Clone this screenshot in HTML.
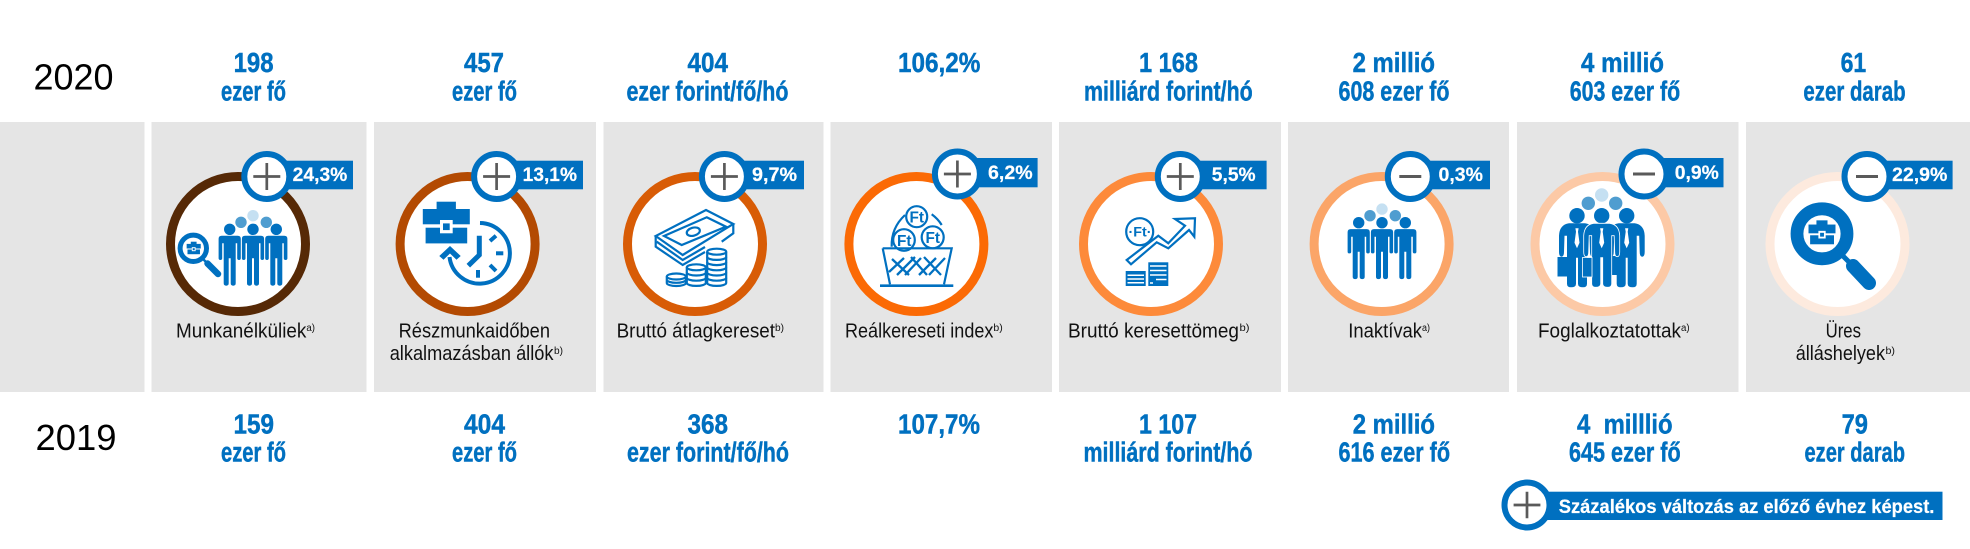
<!DOCTYPE html>
<html lang="hu">
<head>
<meta charset="utf-8">
<title>Munkaerőpiaci mutatók 2020 és 2019</title>
<style>
html,body{margin:0;padding:0;background:#fff;width:1970px;height:549px;overflow:hidden}
svg{display:block}
text{font-family:"Liberation Sans",sans-serif}
.v{font-size:28px;font-weight:700;fill:#0070c0;stroke:#0070c0;stroke-width:.45px}
.y{font-size:36px;fill:#000}
.l{font-size:20px;fill:#111}
.s{font-size:10px;fill:#111}
.b{font-size:19px;font-weight:700;fill:#fff;stroke:#fff;stroke-width:.2px}
.ic{fill:#0070c0}
.ln{fill:none;stroke:#0070c0;stroke-width:2.2}
.ft{font-size:16px;font-weight:700;fill:#0070c0}
</style>
</head>
<body>
<svg xmlns="http://www.w3.org/2000/svg" width="1970" height="549" viewBox="0 0 1970 549">
<defs>
<path id="person" d="M-8 6.4H8Q11.1 6.4 11.1 9.5V29Q11.1 30.7 9.3 30.7Q7.5 30.7 7.5 29V14H6V54Q6 56.4 3.5 56.4Q1 56.4 1 54V29H-1V54Q-1 56.4-3.5 56.4Q-6 56.4-6 54V14H-7.5V29Q-7.5 30.7-9.3 30.7Q-11.1 30.7-11.1 29V9.5Q-11.1 6.4-8 6.4Z"/>
<g id="group">
<circle cx="-12" cy="-7" r="5.7" fill="#4f9dd0"/>
<circle cx="13.3" cy="-7" r="5.7" fill="#4f9dd0"/>
<circle cx="0" cy="-13.6" r="5.7" fill="#c5e0f2"/>
<g fill="#0070c0">
<circle cx="-23.3" cy="0" r="5.7"/><use href="#person" x="-23.3"/>
<circle cx="0" cy="0" r="5.7"/><use href="#person"/>
<circle cx="23.3" cy="0" r="5.7"/><use href="#person" x="23.3"/>
</g>
</g>
<g id="case">
<rect x="-9.7" y="-25" width="19.3" height="8" fill="#0070c0"/>
<rect x="-23.5" y="-17.7" width="47" height="15.3" fill="#0070c0"/>
<rect x="-20.7" y="1" width="41.6" height="15.7" fill="#0070c0"/>
<rect x="-6.3" y="-6.7" width="12.7" height="13.3" fill="#fff"/>
<rect x="-3.3" y="-3.3" width="6.7" height="6.7" fill="#0070c0"/>
</g>
<path id="layer" d="M-9.5 0V5.2A9.5 3 0 0 0 9.5 5.2V0" fill="none" stroke="#0070c0" stroke-width="2.2"/>
<path id="suit" d="M-8 7.6H8Q17.5 9 18 20V36Q18 41 15.5 41Q13 41 13 36L12.5 20H10V68Q10 71.6 6 71.6Q1 71.6 1 68V42H-1V68Q-1 71.6-6 71.6Q-10 71.6-10 68V20H-12.5L-13 36Q-13 41-15.5 41Q-18 41-18 36V20Q-17.5 9-8 7.6Z"/>
<path id="tie" d="M-1.6 12.6H1.6L1 16L2.5 27L0 32.6L-2.5 27L-1 16Z" fill="#fff"/>
</defs>

<g fill="#e5e5e5">
<rect x="0" y="122" width="144.5" height="270"/>
<rect x="151.5" y="122" width="215" height="270"/>
<rect x="374" y="122" width="222" height="270"/>
<rect x="603.5" y="122" width="220" height="270"/>
<rect x="830.5" y="122" width="221.5" height="270"/>
<rect x="1059" y="122" width="222" height="270"/>
<rect x="1288" y="122" width="221" height="270"/>
<rect x="1517" y="122" width="221.5" height="270"/>
<rect x="1746" y="122" width="224" height="270"/>
</g>

<text class="y" x="33.5" y="89.5" textLength="80" lengthAdjust="spacingAndGlyphs">2020</text>
<text class="y" x="35.5" y="450" textLength="81" lengthAdjust="spacingAndGlyphs">2019</text>

<g>
<text class="v" x="233.6" y="72" textLength="40" lengthAdjust="spacingAndGlyphs">198</text>
<text class="v" x="221" y="100.7" textLength="65" lengthAdjust="spacingAndGlyphs">ezer fő</text>
<text class="v" x="464" y="72" textLength="40" lengthAdjust="spacingAndGlyphs">457</text>
<text class="v" x="452" y="100.7" textLength="65" lengthAdjust="spacingAndGlyphs">ezer fő</text>
<text class="v" x="687.5" y="72" textLength="40.5" lengthAdjust="spacingAndGlyphs">404</text>
<text class="v" x="626.5" y="100.7" textLength="162" lengthAdjust="spacingAndGlyphs">ezer forint/fő/hó</text>
<text class="v" x="898" y="72" textLength="82.4" lengthAdjust="spacingAndGlyphs">106,2%</text>
<text class="v" x="1139" y="72" textLength="59" lengthAdjust="spacingAndGlyphs">1 168</text>
<text class="v" x="1084" y="100.7" textLength="168.7" lengthAdjust="spacingAndGlyphs">milliárd forint/hó</text>
<text class="v" x="1352.6" y="72" textLength="82.4" lengthAdjust="spacingAndGlyphs">2 millió</text>
<text class="v" x="1338.5" y="100.7" textLength="111" lengthAdjust="spacingAndGlyphs">608 ezer fő</text>
<text class="v" x="1581" y="72" textLength="83" lengthAdjust="spacingAndGlyphs">4 millió</text>
<text class="v" x="1569.7" y="100.7" textLength="110.5" lengthAdjust="spacingAndGlyphs">603 ezer fő</text>
<text class="v" x="1840.6" y="72" textLength="25.6" lengthAdjust="spacingAndGlyphs">61</text>
<text class="v" x="1803.4" y="100.7" textLength="102.2" lengthAdjust="spacingAndGlyphs">ezer darab</text>
</g>

<g>
<text class="v" x="233.5" y="433.5" textLength="40.5" lengthAdjust="spacingAndGlyphs">159</text>
<text class="v" x="221" y="461.7" textLength="65" lengthAdjust="spacingAndGlyphs">ezer fő</text>
<text class="v" x="464" y="433.5" textLength="41" lengthAdjust="spacingAndGlyphs">404</text>
<text class="v" x="452" y="461.7" textLength="65" lengthAdjust="spacingAndGlyphs">ezer fő</text>
<text class="v" x="687.5" y="433.5" textLength="40.5" lengthAdjust="spacingAndGlyphs">368</text>
<text class="v" x="627" y="461.7" textLength="162" lengthAdjust="spacingAndGlyphs">ezer forint/fő/hó</text>
<text class="v" x="898" y="433.5" textLength="82" lengthAdjust="spacingAndGlyphs">107,7%</text>
<text class="v" x="1139" y="433.5" textLength="58" lengthAdjust="spacingAndGlyphs">1 107</text>
<text class="v" x="1083.5" y="461.7" textLength="169" lengthAdjust="spacingAndGlyphs">milliárd forint/hó</text>
<text class="v" x="1352.7" y="433.5" textLength="82.3" lengthAdjust="spacingAndGlyphs">2 millió</text>
<text class="v" x="1338.5" y="461.7" textLength="111.5" lengthAdjust="spacingAndGlyphs">616 ezer fő</text>
<text class="v" x="1577" y="433.5" textLength="95.6" lengthAdjust="spacingAndGlyphs" xml:space="preserve">4  milllió</text>
<text class="v" x="1569" y="461.7" textLength="111.7" lengthAdjust="spacingAndGlyphs">645 ezer fő</text>
<text class="v" x="1841.6" y="433.5" textLength="26.4" lengthAdjust="spacingAndGlyphs">79</text>
<text class="v" x="1804.5" y="461.7" textLength="100.5" lengthAdjust="spacingAndGlyphs">ezer darab</text>
</g>

<g fill="#fff" stroke-width="9">
<circle cx="238" cy="244" r="67.5" stroke="#562906"/>
<circle cx="467.6" cy="244" r="67.5" stroke="#b34a02"/>
<circle cx="695" cy="244" r="67.5" stroke="#d85c06"/>
<circle cx="916.4" cy="244" r="67.5" stroke="#fb6a05"/>
<circle cx="1151" cy="244" r="67.5" stroke="#fd8a3a"/>
<circle cx="1381.6" cy="244" r="67.5" stroke="#fba568"/>
<circle cx="1602.5" cy="244" r="67.5" stroke="#fcc9a6"/>
<circle cx="1837.5" cy="244" r="67.5" stroke="#fdeade"/>
</g>

<g>
<use href="#group" transform="translate(253 229.3)"/>
<circle cx="193.3" cy="248.3" r="13.2" fill="#fff" stroke="#0070c0" stroke-width="5"/>
<line x1="202" y1="258" x2="208" y2="264" stroke="#0070c0" stroke-width="2.5"/>
<line x1="207.5" y1="263.5" x2="218" y2="274" stroke="#0070c0" stroke-width="6.5" stroke-linecap="round"/>
<use href="#case" transform="translate(193.7 249.2) scale(.3)"/>
</g>

<g>
<use href="#case" transform="translate(446.3 226.7)"/>
<path d="M480 223A30.3 30.3 0 1 1 449.5 257" fill="none" stroke="#0070c0" stroke-width="4"/>
<polygon points="450,246 460.7,256 456.5,259.7 450,253.5 443.5,259.7 439.3,256" fill="#0070c0"/>
<path d="M479.3 235.7V255L468.3 265.7" fill="none" stroke="#0070c0" stroke-width="5"/>
<g stroke="#0070c0" stroke-width="4">
<line x1="490" y1="241" x2="496" y2="235.7"/>
<line x1="496" y1="253.3" x2="503.3" y2="253.3"/>
<line x1="490" y1="265" x2="496" y2="271"/>
<line x1="478" y1="270" x2="478" y2="277.7"/>
</g>
</g>

<g>
<polygon class="ln" points="706,210 733.3,224 682.7,255 655.7,236"/>
<polygon class="ln" points="706.7,217.3 726,226.7 681.7,245 664,236"/>
<ellipse cx="693.3" cy="231.7" rx="6.7" ry="4" class="ln" transform="rotate(-15 693.3 231.7)"/>
<path class="ln" d="M655.7 236V246.7L682.7 265L705 252M656.7 241.7L682.7 260L705 247M733.3 224V233.3L721.7 241.7"/>
<g class="ln">
<ellipse cx="716.7" cy="251.7" rx="9.5" ry="3"/>
<use href="#layer" x="716.7" y="251.7"/><use href="#layer" x="716.7" y="256.9"/><use href="#layer" x="716.7" y="262.1"/><use href="#layer" x="716.7" y="267.3"/><use href="#layer" x="716.7" y="272.5"/><use href="#layer" x="716.7" y="277.7"/>
<ellipse cx="696.3" cy="267.3" rx="9.5" ry="3"/>
<use href="#layer" x="696.3" y="267.3"/><use href="#layer" x="696.3" y="272.5"/><use href="#layer" x="696.3" y="277.7"/>
<ellipse cx="676.3" cy="276.5" rx="9.5" ry="3"/>
<path d="M666.8 276.5V283A9.5 3 0 0 0 685.8 283V276.5M666.8 279.8A9.5 3 0 0 0 685.8 279.8"/>
</g>
</g>

<g>
<path class="ln" d="M905 215Q891 228 891.7 246.7M931.7 214.3Q938 219 941.7 225"/>
<circle cx="916.7" cy="216.7" r="10.5" fill="#fff" stroke="#0070c0" stroke-width="2.2"/>
<circle cx="904" cy="240" r="10.8" fill="#fff" stroke="#0070c0" stroke-width="2.2"/>
<circle cx="932.7" cy="237.3" r="11" fill="#fff" stroke="#0070c0" stroke-width="2.2"/>
<text class="ft" x="909.5" y="222.3" textLength="14.5" lengthAdjust="spacingAndGlyphs">Ft</text>
<text class="ft" x="897" y="245.8" textLength="14.5" lengthAdjust="spacingAndGlyphs">Ft</text>
<text class="ft" x="925.5" y="243" textLength="14.5" lengthAdjust="spacingAndGlyphs">Ft</text>
<path class="ln" d="M882.7 248.3H951.7L944 284.3M882.7 248.3L890 284.3"/>
<line x1="880" y1="285.7" x2="953.3" y2="285.7" stroke="#0070c0" stroke-width="2.6"/>
<path d="M892 259L909 275M904 258L889 272M897 275L915 257M911 257L927 275M921 258L905 275M924 257L941 275M936 258L919 275M945 258L929 275" fill="none" stroke="#0070c0" stroke-width="2.3"/>
</g>

<g>
<circle cx="1139.7" cy="231.7" r="13.5" fill="#fff" stroke="#0070c0" stroke-width="2.2"/>
<text class="ft" style="font-size:13.5px" x="1128.5" y="236.5" textLength="23" lengthAdjust="spacingAndGlyphs">·Ft·</text>
<polygon class="ln" points="1126.7,260 1158.3,235.7 1168.3,243.3 1185,225.7 1175,219 1195,218.3 1194.3,236.7 1189,230 1168.3,248.3 1156.7,242.3 1131,264.3"/>
<rect x="1125.7" y="271" width="20" height="15" fill="#0070c0"/>
<rect x="1148.3" y="262.3" width="20" height="23.7" fill="#0070c0"/>
<path d="M1127.5 275.2H1144M1127.5 279H1144M1127.5 282.8H1144M1150 266H1166.5M1150 270.5H1166.5M1150 275H1166.5M1156 279.5H1166.5M1150 283H1153" stroke="#fff" stroke-width="1.5" fill="none"/>
</g>

<g>
<use href="#group" transform="translate(1382 222.7)"/>
</g>

<g>
<circle cx="1588.3" cy="203.3" r="6.7" fill="#4f9dd0"/>
<circle cx="1615.7" cy="203.3" r="6.7" fill="#4f9dd0"/>
<circle cx="1601.7" cy="195" r="6.7" fill="#c5e0f2"/>
<rect x="1557.5" y="257" width="9.5" height="19.5" fill="#0070c0"/>
<rect x="1610" y="256" width="8" height="19" fill="#0070c0"/>
<g transform="translate(1577 215.7)" fill="#0070c0"><circle r="7.7"/><use href="#suit"/><use href="#tie"/></g>
<g transform="translate(1626.7 215.7)" fill="#0070c0"><circle r="7.7"/><use href="#suit"/><use href="#tie"/></g>
<g transform="translate(1601.7 215.7)" fill="#0070c0"><circle r="7.7"/><use href="#suit" stroke="#fff" stroke-width=".8"/><use href="#tie"/></g>
<rect x="1582.5" y="257.5" width="9.5" height="19.5" fill="#0070c0" stroke="#fff" stroke-width=".8"/>
</g>

<g>
<circle cx="1822" cy="233.8" r="25" fill="#fff" stroke="#0070c0" stroke-width="12.8"/>
<line x1="1843" y1="256" x2="1853" y2="266" stroke="#0070c0" stroke-width="5"/>
<line x1="1853" y1="266" x2="1869" y2="283" stroke="#0070c0" stroke-width="14" stroke-linecap="round"/>
<use href="#case" transform="translate(1822 234.7) scale(.574)"/>
</g>

<g>
<text class="l" x="176" y="337.3" textLength="130.4" lengthAdjust="spacingAndGlyphs">Munkanélküliek</text>
<text class="s" x="306.4" y="331" textLength="8.6" lengthAdjust="spacingAndGlyphs">a)</text>
<text class="l" x="398.6" y="337.3" textLength="151.4" lengthAdjust="spacingAndGlyphs">Részmunkaidőben</text>
<text class="l" x="389.7" y="360" textLength="163.8" lengthAdjust="spacingAndGlyphs">alkalmazásban állók</text>
<text class="s" x="554" y="354" textLength="9" lengthAdjust="spacingAndGlyphs">b)</text>
<text class="l" x="616.6" y="337.3" textLength="158.4" lengthAdjust="spacingAndGlyphs">Bruttó átlagkereset</text>
<text class="s" x="775" y="331" textLength="9" lengthAdjust="spacingAndGlyphs">b)</text>
<text class="l" x="845" y="337.3" textLength="148.4" lengthAdjust="spacingAndGlyphs">Reálkereseti index</text>
<text class="s" x="993.4" y="331" textLength="9.3" lengthAdjust="spacingAndGlyphs">b)</text>
<text class="l" x="1068" y="337.3" textLength="171" lengthAdjust="spacingAndGlyphs">Bruttó keresettömeg</text>
<text class="s" x="1239.5" y="331" textLength="10" lengthAdjust="spacingAndGlyphs">b)</text>
<text class="l" x="1348.3" y="337.3" textLength="73.7" lengthAdjust="spacingAndGlyphs">Inaktívak</text>
<text class="s" x="1422" y="331" textLength="8" lengthAdjust="spacingAndGlyphs">a)</text>
<text class="l" x="1538" y="337.3" textLength="143" lengthAdjust="spacingAndGlyphs">Foglalkoztatottak</text>
<text class="s" x="1681" y="331" textLength="8.6" lengthAdjust="spacingAndGlyphs">a)</text>
<text class="l" x="1825.6" y="337.3" textLength="35.4" lengthAdjust="spacingAndGlyphs">Üres</text>
<text class="l" x="1795.7" y="360" textLength="89.3" lengthAdjust="spacingAndGlyphs">álláshelyek</text>
<text class="s" x="1885.5" y="354" textLength="9.5" lengthAdjust="spacingAndGlyphs">b)</text>
</g>

<g>
<g>
<rect x="266" y="160.7" width="87" height="28.6" fill="#0070c0"/>
<circle cx="266.8" cy="176.5" r="22.5" fill="#fff" stroke="#0070c0" stroke-width="6"/>
<path d="M253.3 176.5H280.3M266.8 163V190" stroke="#5a5a5a" stroke-width="2.7"/>
<text class="b" x="292.7" y="181" textLength="54.6" lengthAdjust="spacingAndGlyphs">24,3%</text>
</g>
<g>
<rect x="496" y="160.7" width="87" height="28.6" fill="#0070c0"/>
<circle cx="496.6" cy="176.5" r="22.5" fill="#fff" stroke="#0070c0" stroke-width="6"/>
<path d="M483.1 176.5H510.1M496.6 163V190" stroke="#5a5a5a" stroke-width="2.7"/>
<text class="b" x="522.7" y="181" textLength="54.3" lengthAdjust="spacingAndGlyphs">13,1%</text>
</g>
<g>
<rect x="724" y="160.7" width="80" height="28.6" fill="#0070c0"/>
<circle cx="724.4" cy="176.5" r="22.5" fill="#fff" stroke="#0070c0" stroke-width="6"/>
<path d="M710.9 176.5H737.9M724.4 163V190" stroke="#5a5a5a" stroke-width="2.7"/>
<text class="b" x="752" y="181" textLength="45" lengthAdjust="spacingAndGlyphs">9,7%</text>
</g>
<g>
<rect x="957" y="158" width="80.6" height="29.3" fill="#0070c0"/>
<circle cx="957.4" cy="174" r="22.5" fill="#fff" stroke="#0070c0" stroke-width="6"/>
<path d="M943.9 174H970.9M957.4 160.5V187.5" stroke="#5a5a5a" stroke-width="2.7"/>
<text class="b" x="988" y="179" textLength="44.6" lengthAdjust="spacingAndGlyphs">6,2%</text>
</g>
<g>
<rect x="1180" y="160.7" width="86.6" height="28.6" fill="#0070c0"/>
<circle cx="1180.3" cy="176.5" r="22.5" fill="#fff" stroke="#0070c0" stroke-width="6"/>
<path d="M1166.8 176.5H1193.8M1180.3 163V190" stroke="#5a5a5a" stroke-width="2.7"/>
<text class="b" x="1211.8" y="181" textLength="43.8" lengthAdjust="spacingAndGlyphs">5,5%</text>
</g>
<g>
<rect x="1410" y="160.7" width="80" height="28.6" fill="#0070c0"/>
<circle cx="1410.3" cy="176.5" r="22.5" fill="#fff" stroke="#0070c0" stroke-width="6"/>
<path d="M1399.3 176.5H1421.3" stroke="#5a5a5a" stroke-width="3"/>
<text class="b" x="1438.5" y="181" textLength="44.5" lengthAdjust="spacingAndGlyphs">0,3%</text>
</g>
<g>
<rect x="1644" y="158" width="79.5" height="29.3" fill="#0070c0"/>
<circle cx="1644" cy="174" r="22.5" fill="#fff" stroke="#0070c0" stroke-width="6"/>
<path d="M1633 174H1655" stroke="#5a5a5a" stroke-width="3"/>
<text class="b" x="1674.8" y="179" textLength="44" lengthAdjust="spacingAndGlyphs">0,9%</text>
</g>
<g>
<rect x="1867" y="160.7" width="85.6" height="28.6" fill="#0070c0"/>
<circle cx="1867" cy="176.5" r="22.5" fill="#fff" stroke="#0070c0" stroke-width="6"/>
<path d="M1856 176.5H1878" stroke="#5a5a5a" stroke-width="3"/>
<text class="b" x="1892" y="181" textLength="55.4" lengthAdjust="spacingAndGlyphs">22,9%</text>
</g>
</g>

<g>
<rect x="1527" y="491.7" width="415.5" height="28.3" fill="#0070c0"/>
<circle cx="1527" cy="505" r="22.5" fill="#fff" stroke="#0070c0" stroke-width="6"/>
<path d="M1513.6 505H1540.4M1527 491.7V518.3" stroke="#5a5a5a" stroke-width="2.7"/>
<text class="b" x="1558.8" y="513" textLength="375.6" lengthAdjust="spacingAndGlyphs">Százalékos változás az előző évhez képest.</text>
</g>
</svg>
</body>
</html>
